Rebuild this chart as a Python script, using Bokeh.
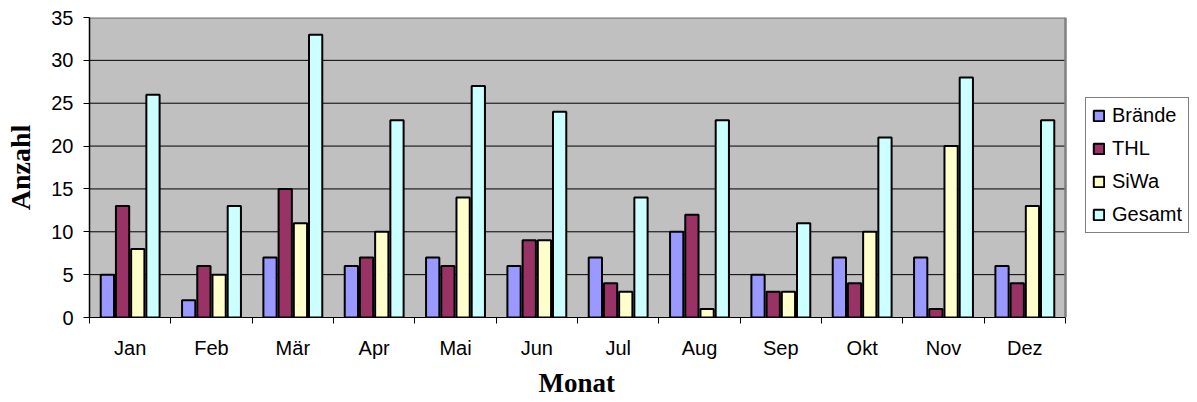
from bokeh.plotting import figure
from bokeh.models import Range1d, FixedTicker, Legend, LegendItem, ColumnDataSource, Title
from bokeh.transform import dodge
from bokeh.embed import file_html
from bokeh.resources import INLINE

months = ["Jan", "Feb", "Mär", "Apr", "Mai", "Jun", "Jul", "Aug", "Sep", "Okt", "Nov", "Dez"]
braende = [5, 2, 7, 6, 7, 6, 7, 10, 5, 7, 7, 6]
thl = [13, 6, 15, 7, 6, 9, 4, 12, 3, 4, 1, 4]
siwa = [8, 5, 11, 10, 14, 9, 3, 1, 3, 10, 20, 13]
gesamt = [26, 13, 33, 23, 27, 24, 14, 23, 11, 21, 28, 23]
series_names = ["Brände", "THL", "SiWa", "Gesamt"]
series_colors = ["#9999FF", "#993366", "#FFFFCC", "#CCFFFF"]
y_ticks = [0, 5, 10, 15, 20, 25, 30, 35]
x_title = "Monat"
y_title = "Anzahl"

idx = list(range(1, len(months) + 1))
src = ColumnDataSource(dict(x=idx, s0=braende, s1=thl, s2=siwa, s3=gesamt))

SANS = "Liberation Sans"
SERIF = "Liberation Serif"

W, H = 1197, 402
LEFT, TOP, BOTTOM = 89, 17, 85
FRAME_W = W - LEFT          # frame reaches the right edge, legend lives inside it
PLOT_W = 976                # width of the grey plot area in pixels
x_lo = 0.5
x_hi = len(months) + 0.5
y_lo, y_hi = y_ticks[0], y_ticks[-1]
x_end = x_lo + (x_hi - x_lo) * FRAME_W / PLOT_W

p = figure(width=W, height=H,
           x_range=Range1d(x_lo, x_end), y_range=Range1d(y_lo, y_hi),
           output_backend="svg", toolbar_location=None,
           min_border_left=LEFT, min_border_right=0, min_border_top=TOP, min_border_bottom=BOTTOM,
           background_fill_color="white", border_fill_color="white",
           outline_line_color=None)

# grey plot area, grid lines and border
p.quad(left=x_lo, right=x_hi, bottom=y_lo, top=y_hi, fill_color="#C0C0C0", line_color=None)
grid_y = y_ticks[1:-1]
p.segment(x0=[x_lo] * len(grid_y), x1=[x_hi] * len(grid_y), y0=grid_y, y1=grid_y,
          line_color="black", line_width=1)
p.segment(x0=[x_lo, x_hi], x1=[x_hi, x_hi], y0=[y_hi, y_lo], y1=[y_hi, y_hi],
          line_color="#808080", line_width=2.5)

pitch = 0.187
renderers = []
for i, (name, col) in enumerate(zip(series_names, series_colors)):
    r = p.vbar(x=dodge("x", (i - 1.5) * pitch), top="s%d" % i, width=0.163, source=src,
               fill_color=col, line_color="black", line_width=2)
    renderers.append(r)

# x axis
xa = p.xaxis[0]
xa.bounds = (x_lo, x_hi)
xa.ticker = FixedTicker(ticks=idx, minor_ticks=[i + 0.5 for i in range(len(months) + 1)])
xa.major_label_overrides = {i: m for i, m in zip(idx, months)}
xa.major_tick_out = 0
xa.major_tick_in = 0
xa.minor_tick_out = 6
xa.minor_tick_in = 0
xa.minor_tick_line_color = "black"
xa.axis_line_color = "black"
xa.major_label_text_font = SANS
xa.major_label_text_font_size = "20px"
xa.major_label_text_color = "black"
xa.major_label_standoff = 13

# x axis title, centred under the grey plot area
p.add_layout(Title(text=x_title, align="left", offset=449, standoff=9,
                   text_font=SERIF, text_font_style="bold", text_font_size="27px",
                   text_color="black"), "below")

# y axis
ya = p.yaxis[0]
ya.ticker = FixedTicker(ticks=y_ticks)
ya.major_tick_out = 6
ya.major_tick_in = 0
ya.minor_tick_out = 0
ya.minor_tick_in = 0
ya.major_tick_line_color = "black"
ya.axis_line_color = "black"
ya.axis_line_width = 1.5
ya.major_label_text_font = SANS
ya.major_label_text_font_size = "20px"
ya.major_label_text_color = "black"
ya.major_label_standoff = 10
ya.axis_label = y_title
ya.axis_label_text_font = SERIF
ya.axis_label_text_font_style = "bold"
ya.axis_label_text_font_size = "28px"
ya.axis_label_text_color = "black"
ya.axis_label_standoff = 12

p.xgrid.visible = False
p.ygrid.visible = False

legend = Legend(items=[LegendItem(label=n, renderers=[r]) for n, r in zip(series_names, renderers)],
                location=(996, 84),
                label_text_font=SANS, label_text_font_size="20px", label_text_color="black",
                glyph_width=13, glyph_height=13, label_standoff=7, label_height=22,
                padding=6, spacing=10, margin=0,
                border_line_color="black", border_line_width=1,
                background_fill_color="white", background_fill_alpha=1.0)
p.add_layout(legend)

open("out.html", "w").write(file_html(p, INLINE))
